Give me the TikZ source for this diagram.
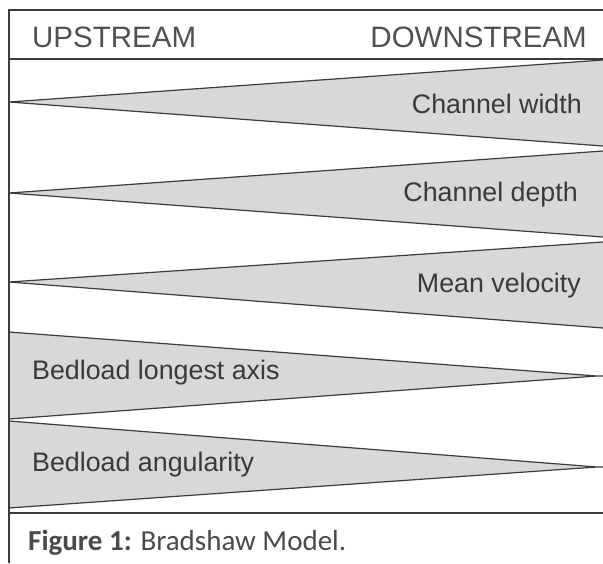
\documentclass[tikz,border=0pt]{standalone}
\usepackage{fontspec}
\setmainfont{Liberation Sans}
\newfontfamily\capfont{Carlito}
\definecolor{framec}{HTML}{3C3C3C}
\definecolor{wedgefill}{HTML}{D8D8D8}
\definecolor{labelc}{HTML}{3A3A3A}
\definecolor{headc}{HTML}{505050}
\definecolor{capc}{HTML}{4A4A4A}
\tikzset{
  frameline/.style={draw=framec, line width=1.3pt},
  wedgeline/.style={draw=framec, line width=1.2pt, line join=miter},
  wedgelabel/.style={inner sep=0pt, text=labelc, font=\fontsize{26.8}{30}\selectfont},
  headlabel/.style={inner sep=0pt, text=headc, font=\fontsize{29.5}{33}\selectfont},
  caplabel/.style={inner sep=0pt, text=capc, font=\capfont\fontsize{29}{33}\selectfont}
}
\begin{document}
\begin{tikzpicture}[x=1pt, y=-1pt]
\useasboundingbox[fill=white] (0,0) rectangle (603,563);
% wedges widening downstream
\fill[wedgefill] (603,60) -- (9,102) -- (603,146) -- cycle;
\draw[wedgeline] (603,60) -- (9,102) -- (603,146);
\fill[wedgefill] (603,151) -- (9,193) -- (603,237) -- cycle;
\draw[wedgeline] (603,151) -- (9,193) -- (603,237);
\fill[wedgefill] (603,242) -- (9,282) -- (603,328) -- cycle;
\draw[wedgeline] (603,242) -- (9,282) -- (603,328);
% wedges narrowing downstream
\fill[wedgefill] (9,332) -- (597,376) -- (9,419) -- cycle;
\draw[wedgeline] (9,332) -- (597,376) -- (9,419) (597,376) -- (603,376);
\fill[wedgefill] (9,421) -- (597,467) -- (9,508) -- cycle;
\draw[wedgeline] (9,421) -- (597,467) -- (9,508) (597,467) -- (603,467);
% frame
\draw[frameline] (9,563) -- (9,10) -- (603,10);
\draw[frameline] (9,59) -- (603,59);
\draw[frameline] (9,513) -- (603,513);
% header
\node[headlabel, anchor=west] (up) at (32,37) {UPSTREAM};
\node[headlabel, anchor=east] (down) at (587,37) {DOWNSTREAM};
% labels
\node[wedgelabel, anchor=east] (cw) at (582,104) {Channel width};
\node[wedgelabel, anchor=east] (cd) at (578,195) {Channel depth};
\node[wedgelabel, anchor=east] (mv) at (581,286) {Mean velocity};
\node[wedgelabel, anchor=west] (bl) at (32,373) {Bedload longest axis};
\node[wedgelabel, anchor=west] (ba) at (32,465) {Bedload angularity};
% caption
\node[caplabel, anchor=base west] (cap) at (28,550) {\textbf{Figure 1:} Bradshaw Model.};
\end{tikzpicture}
\end{document}
